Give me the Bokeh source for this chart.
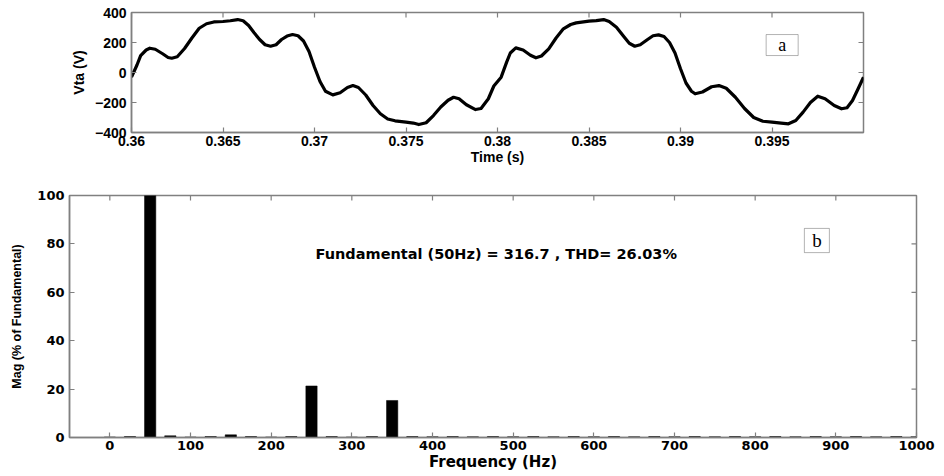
from bokeh.plotting import figure
from bokeh.models import Range1d, FixedTicker, BoxAnnotation, Label
from bokeh.embed import file_html
from bokeh.resources import INLINE

# ---------------- data: (a) phase voltage waveform ----------------
time_s = [
    0.3600, 0.3603, 0.3605, 0.3608, 0.3610, 0.3613, 0.3617, 0.3620, 0.3622, 0.3625,
    0.3629, 0.3633, 0.3637, 0.3641, 0.3645, 0.3650, 0.3654, 0.3658, 0.3661, 0.3664,
    0.3667, 0.3670, 0.3673, 0.3676, 0.3679, 0.3682, 0.3685, 0.3688, 0.3691, 0.3694,
    0.3697, 0.3700, 0.3703, 0.3706, 0.3710, 0.3714, 0.3718, 0.3721, 0.3724, 0.3728,
    0.3732, 0.3736, 0.3740, 0.3744, 0.3750, 0.3754, 0.3757, 0.3761, 0.3765, 0.3769,
    0.3773, 0.3776, 0.3779, 0.3783, 0.3788, 0.3791, 0.3795, 0.3798, 0.3802,
    0.3805, 0.3807, 0.3810, 0.3814, 0.3818, 0.3821, 0.3824, 0.3828, 0.3832, 0.3836,
    0.3840, 0.3843, 0.3850, 0.3854, 0.3858, 0.3861, 0.3865, 0.3869, 0.3872, 0.3875,
    0.3878, 0.3882, 0.3885, 0.3888, 0.3891, 0.3894, 0.3897, 0.3900, 0.3903, 0.3906,
    0.3908, 0.3912, 0.3917, 0.3921, 0.3925, 0.3930, 0.3935, 0.3940, 0.3945, 0.3950,
    0.3955, 0.3959, 0.3963, 0.3967, 0.3971, 0.3975, 0.3979, 0.3984, 0.3988, 0.3991,
    0.3994, 0.3997, 0.4000,
]
vta_v = [
    -31, 50, 113, 150, 162, 155, 125, 100, 95, 105,
    160, 230, 295, 325, 337, 340, 345, 353, 345, 313,
    265, 220, 185, 175, 185, 220, 243, 253, 245, 210,
    140, 35, -60, -125, -149, -135, -100, -87, -100, -150,
    -220, -275, -310, -322, -331, -337, -347, -335, -287, -230,
    -185, -165, -175, -215, -247, -240, -175, -90, -31,
    69, 130, 164, 150, 115, 98, 110, 158, 230, 291,
    320, 331, 342, 346, 353, 340, 302, 240, 195, 175,
    185, 220, 245, 251, 240, 200, 130, 25, -70, -125,
    -142, -130, -95, -87, -105, -165, -240, -300, -325, -331,
    -337, -342, -320, -264, -200, -158, -175, -220, -242, -235,
    -187, -110, -31,
]
time_ticks = [0.36, 0.365, 0.37, 0.375, 0.38, 0.385, 0.39, 0.395]
time_tick_labels = ["0.36", "0.365", "0.37", "0.375", "0.38", "0.385", "0.39", "0.395"]
volt_ticks = [-400, -200, 0, 200, 400]

# ---------------- data: (b) FFT spectrum ----------------
freq_hz = [0, 25, 50, 75, 100, 125, 150, 175, 200, 225, 250, 275, 300, 325, 350, 375,
           400, 425, 450, 475, 500, 525, 550, 575, 600, 625, 650, 675, 700, 725, 750,
           775, 800, 825, 850, 875, 900, 925, 950, 975, 1000]
mag_pct = [0.2, 0.4, 100, 0.7, 0.2, 0.4, 1.1, 0.4, 0.2, 0.4, 21.3, 0.4, 0.2, 0.4, 15.3, 0.4,
           0.3, 0.4, 0.3, 0.4, 0.3, 0.4, 0.3, 0.4, 0.3, 0.4, 0.3, 0.4, 0.3, 0.4, 0.3,
           0.4, 0.3, 0.4, 0.3, 0.4, 0.3, 0.4, 0.3, 0.4, 0.3]
freq_ticks = [0, 100, 200, 300, 400, 500, 600, 700, 800, 900, 1000]
mag_ticks = [0, 20, 40, 60, 80, 100]
fft_text = "Fundamental (50Hz) = 316.7 , THD= 26.03%"

AX = "#808080"


def base_style(p, font, tick_size, label_size, ylabel_size, ylabel_font):
    p.xgrid.grid_line_color = None
    p.ygrid.grid_line_color = None
    p.outline_line_color = AX
    p.outline_line_width = 1.5
    p.background_fill_color = "white"
    p.border_fill_color = "white"
    for ax in (p.xaxis[0], p.yaxis[0]):
        ax.axis_line_color = AX
        ax.axis_line_width = 1.5
        ax.major_tick_line_color = AX
        ax.major_tick_line_width = 1.2
        ax.major_tick_in = 5
        ax.major_tick_out = 0
        ax.minor_tick_line_color = None
        ax.major_label_text_font = font
        ax.major_label_text_font_style = "bold"
        ax.major_label_text_font_size = tick_size
        ax.major_label_text_color = "black"
        ax.axis_label_text_font_style = "bold"
        ax.axis_label_text_color = "black"
    p.xaxis[0].axis_label_text_font = font
    p.xaxis[0].axis_label_text_font_size = label_size
    p.yaxis[0].axis_label_text_font = ylabel_font
    p.yaxis[0].axis_label_text_font_size = ylabel_size
    p.xaxis[0].major_label_standoff = 3
    p.xaxis[0].axis_label_standoff = 0
    p.yaxis[0].major_label_standoff = 5


def mirror_ticks(p, xt, yt, xr, yr, frame_w, frame_h, length_px=5):
    # inward tick marks on the top and right edges of the box, from the tick lists
    dy = (yr[1] - yr[0]) * length_px / frame_h
    dx = (xr[1] - xr[0]) * length_px / frame_w
    p.segment(x0=xt, y0=[yr[1]] * len(xt), x1=xt, y1=[yr[1] - dy] * len(xt),
              line_color=AX, line_width=1.2)
    p.segment(x0=[xr[1]] * len(yt), y0=yt, x1=[xr[1] - dx] * len(yt), y1=yt,
              line_color=AX, line_width=1.2)


# ---------------- (a) ----------------
xr1, yr1 = (0.36, 0.40), (-400, 400)
p1 = figure(width=940, height=168, x_range=Range1d(*xr1), y_range=Range1d(*yr1),
            output_backend="svg", toolbar_location=None,
            min_border_left=131, min_border_right=77, min_border_top=12, min_border_bottom=36,
            x_axis_label="Time (s)", y_axis_label="Vta (V)")
p1.line(time_s, vta_v, line_color="black", line_width=3.2, line_join="round")
base_style(p1, "Liberation Sans", "14px", "14px", "14px", "Liberation Sans")
p1.xaxis[0].ticker = FixedTicker(ticks=time_ticks)
p1.xaxis[0].major_label_overrides = dict(zip(time_ticks, time_tick_labels))
p1.yaxis[0].ticker = FixedTicker(ticks=volt_ticks)
p1.yaxis[0].axis_label_standoff = 5
mirror_ticks(p1, time_ticks, volt_ticks[1:-1], xr1, yr1, 732, 120)
p1.add_layout(BoxAnnotation(left=0.39468, right=0.39643, bottom=113, top=253,
                            fill_color="white", fill_alpha=1, line_color="black", line_width=1))
p1.add_layout(Label(x=0.395555, y=183, text="a", text_align="center", text_baseline="middle",
                    text_font="Liberation Serif", text_font_size="18px", text_color="black"))

# ---------------- (b) ----------------
xr2, yr2 = (-50, 1000), (0, 100)
p2 = figure(width=940, height=306, x_range=Range1d(*xr2), y_range=Range1d(*yr2),
            output_backend="svg", toolbar_location=None,
            min_border_left=69, min_border_right=24, min_border_top=27, min_border_bottom=37,
            x_axis_label="Frequency (Hz)", y_axis_label="Mag (% of Fundamental)")
p2.vbar(x=freq_hz, top=mag_pct, width=14, bottom=0, fill_color="black", line_color="black",
        line_width=0.5)
base_style(p2, "DejaVu Sans", "13px", "15px", "12.5px", "Liberation Sans")
p2.xaxis[0].ticker = FixedTicker(ticks=freq_ticks)
p2.yaxis[0].ticker = FixedTicker(ticks=mag_ticks)
p2.yaxis[0].axis_label_standoff = 10
mirror_ticks(p2, freq_ticks[:-1], mag_ticks[1:-1], xr2, yr2, 847, 242)
p2.add_layout(Label(x=479, y=76, text=fft_text, text_align="center", text_baseline="middle",
                    text_font="DejaVu Sans", text_font_style="bold", text_font_size="14.5px",
                    text_color="black"))
p2.add_layout(BoxAnnotation(left=861, right=892, bottom=76.4, top=86.4,
                            fill_color="white", fill_alpha=1, line_color="black", line_width=1))
p2.add_layout(Label(x=876.5, y=81.4, text="b", text_align="center", text_baseline="middle",
                    text_font="Liberation Serif", text_font_size="19px", text_color="black"))

open("out.html", "w").write(file_html([p1, p2], INLINE))
